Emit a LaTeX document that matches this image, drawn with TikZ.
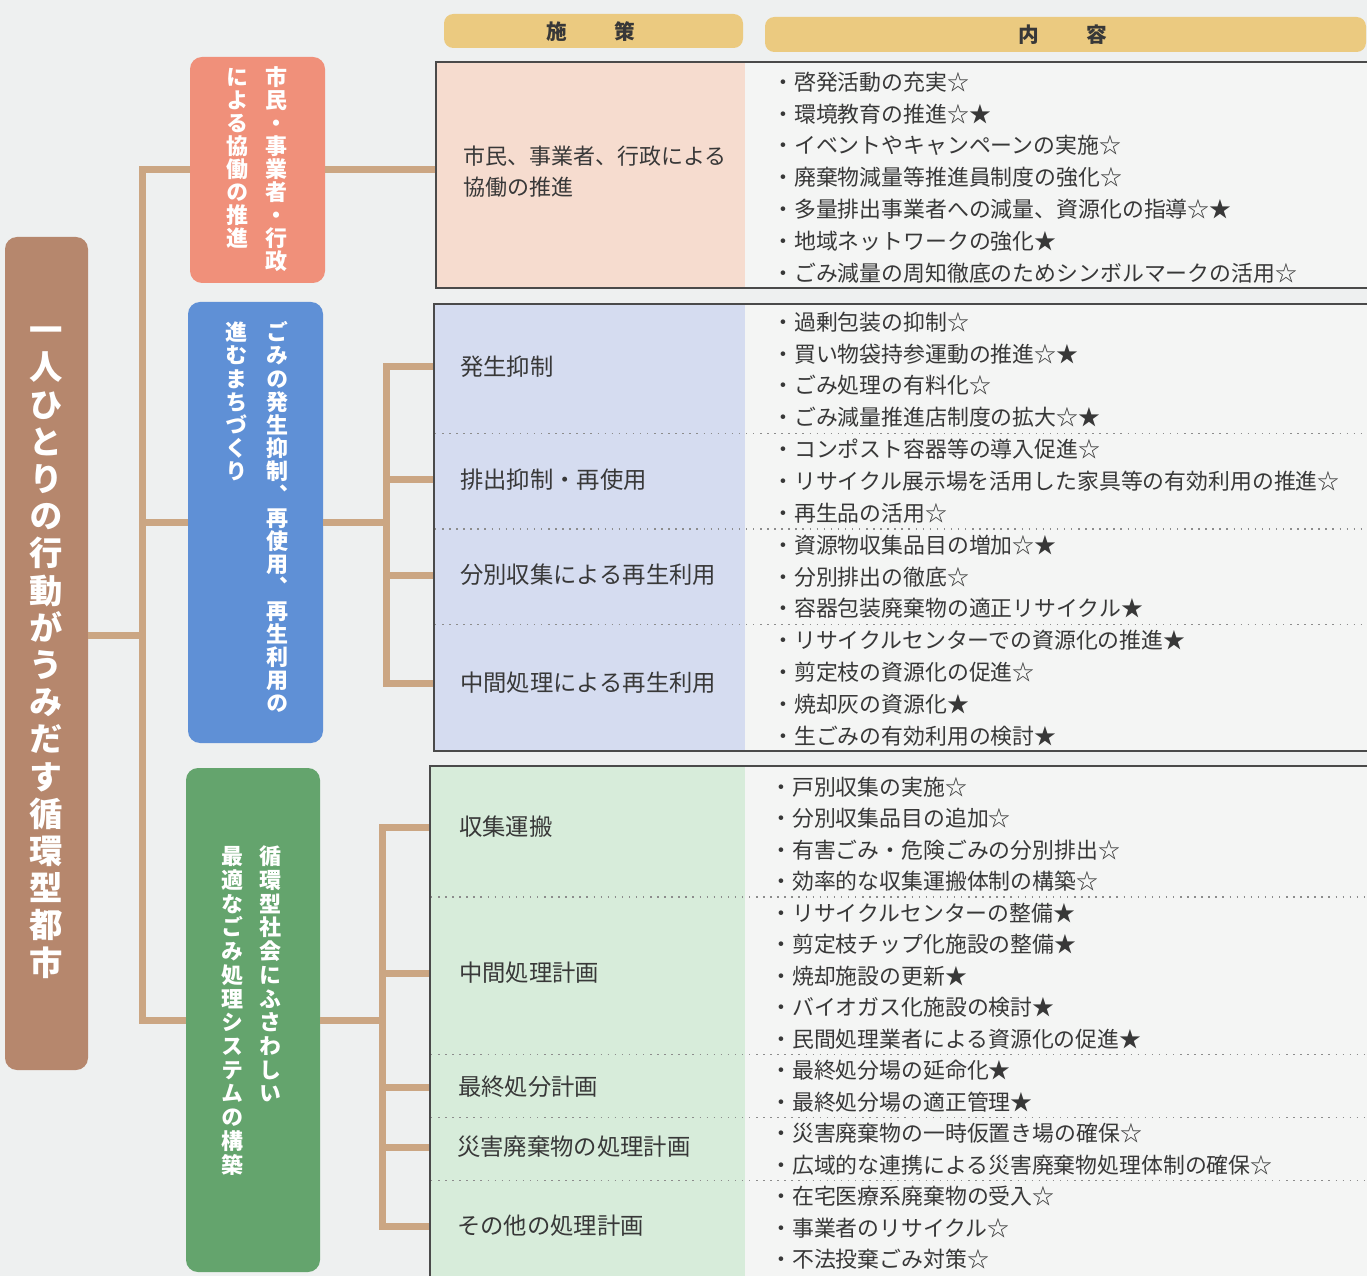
\documentclass[tikz,border=0pt]{standalone}
\usepackage{fontspec}
\setmainfont{Noto Sans CJK JP}
\newfontfamily\jpv[RawFeature=+vert]{Noto Sans CJK JP}
\usetikzlibrary{fit}
\definecolor{bg}{HTML}{EEF0F0}
\definecolor{tan}{HTML}{CBA683}
\definecolor{brownbox}{HTML}{B6876D}
\definecolor{orangebox}{HTML}{F0907A}
\definecolor{bluebox}{HTML}{5F90D6}
\definecolor{greenbox}{HTML}{64A46D}
\definecolor{gold}{HTML}{EBCA80}
\definecolor{tonefill}{HTML}{F6DCCF}
\definecolor{ttwofill}{HTML}{D5DCF0}
\definecolor{tthreefill}{HTML}{D7ECDA}
\definecolor{rfill}{HTML}{F4F5F4}
\definecolor{bordercol}{HTML}{4A4A4A}
\definecolor{txt}{HTML}{383838}
\definecolor{sepcol}{HTML}{8C8C8C}
\makeatletter
\def\vstk@end{\vstk@end}
\newcommand\vstk[2]{\vbox{\baselineskip=#1\lineskiplimit=-100pt\lineskip=0pt\vstk@#2\vstk@end}}
\def\vstk@#1{\ifx\vstk@end#1\else\hbox to 1.1em{\vrule height .88em depth .12em width 0pt\hss#1\hss}\expandafter\vstk@\fi}
\makeatother
\begin{document}
\begin{tikzpicture}[x=0.75pt,y=-0.75pt,
  tree/.style={line width=5.25pt,draw=tan},
  box/.style={inner sep=0pt,rounded corners=9pt},
  vcol/.style={anchor=north,inner sep=0pt,text=white},
  vfont/.style={font=\jpv\bfseries\fontsize{16.5pt}{16.5pt}\selectfont},
  border/.style={line width=1.3pt,draw=bordercol},
  sepline/.style={line width=1.1pt,draw=sepcol,dash pattern=on 1.1pt off 4.2pt},
  item/.style={anchor=west,inner sep=0pt,text=txt,font=\fontsize{16.4pt}{20pt}\selectfont,text height=14.4pt,text depth=2pt},
  pol/.style={anchor=west,inner sep=0pt,text=txt,font=\fontsize{17.5pt}{20pt}\selectfont,text height=15.4pt,text depth=2.1pt},
  hdr/.style={inner sep=0pt,rounded corners=7pt,fill=gold},
  hdrtext/.style={inner sep=0pt,text=txt,font=\bfseries\fontsize{15.5pt}{16pt}\selectfont,text height=13.6pt,text depth=1.9pt}]
\useasboundingbox (0,0) rectangle (1367,1276);
\fill[bg] (0,0) rectangle (1367,1276);
\coordinate (R) at (1375,0);

% headers
\node[hdr,fit={(444,14) (743,48)}] (h1) {};
\node[hdr,fit={(765,17) (1366,52)}] (h2) {};
\node[hdrtext] (h1t) at (591,32) {施\hspace{2.3em}策};
\node[hdrtext] (h2t) at (1063,35) {内\hspace{2.3em}容};

% table frames
\fill[rfill] (745,62) rectangle (1375,288);
\fill[rfill] (745,304) rectangle (1375,751);
\fill[rfill] (745,766) rectangle (1375,1290);
\node[fit={(436,62) (745,288)},inner sep=0pt,fill=tonefill] (t1) {};
\node[fit={(434,304) (745,751)},inner sep=0pt,fill=ttwofill] (t2) {};
\node[fit={(430,766) (745,1290)},inner sep=0pt,fill=tthreefill] (t3) {};

% connector anchors
\coordinate (trunk) at (142,635);
\coordinate (bus2) at (386,0);
\coordinate (bus3) at (382,0);

% boxes
\node[box,fill=brownbox,fit={(5,237) (88,1070)}] (root) {};
\node[box,fill=orangebox,fit={(190,57) (325,283)}] (g1) {};
\node[box,fill=bluebox,fit={(188,302) (323,743)}] (g2) {};
\node[box,fill=greenbox,fit={(186,768) (320,1272)}] (g3) {};

% policy labels
\node[anchor=west,inner sep=0pt,text=txt,align=left,font=\fontsize{16.5pt}{23.2pt}\selectfont] (p11) at (463,172) {市民、事業者、行政による\\協働の推進};
\node[pol] (p21) at (460,367) {発生抑制};
\node[pol] (p22) at (460,480) {排出抑制・再使用};
\node[pol] (p23) at (460,575) {分別収集による再生利用};
\node[pol] (p24) at (460,683) {中間処理による再生利用};
\node[pol] (p31) at (459,827) {収集運搬};
\node[pol] (p32) at (459,973) {中間処理計画};
\node[pol] (p33) at (458,1087) {最終処分計画};
\node[pol] (p34) at (457,1147) {災害廃棄物の処理計画};
\node[pol] (p35) at (457,1226) {その他の処理計画};

% connectors
\draw[tree] (root.east |- trunk) -- (trunk);
\draw[tree] (g1.west) -| (trunk) |- (g3.west);
\draw[tree] (g2.west) -- (g2.west -| trunk);
\draw[tree] (g1.east) -- (g1.east -| t1.west);
\draw[tree] (g2.east) -- (g2.east -| bus2);
\draw[tree] (t2.west |- p21) -| (bus2 |- p24) -- (t2.west |- p24);
\draw[tree] (bus2 |- p22) -- (t2.west |- p22);
\draw[tree] (bus2 |- p23) -- (t2.west |- p23);
\draw[tree] (g3.east) -- (g3.east -| bus3);
\draw[tree] (t3.west |- p31) -| (bus3 |- p35) -- (t3.west |- p35);
\draw[tree] (bus3 |- p32) -- (t3.west |- p32);
\draw[tree] (bus3 |- p33) -- (t3.west |- p33);
\draw[tree] (bus3 |- p34) -- (t3.west |- p34);

% vertical texts
\node[vcol,font=\jpv\bfseries\fontsize{25pt}{25pt}\selectfont] (roott) at (46,313) {\vstk{27.9pt}{一人ひとりの行動がうみだす循環型都市}};
\node[vcol,vfont] (g1r) at (276,66) {\vstk{17.2pt}{市民・事業者・行政}};
\node[vcol,vfont] (g1l) at (237,66) {\vstk{17.2pt}{による協働の推進}};
\node[vcol,vfont] (g2r) at (277,321) {\vstk{17.4pt}{ごみの発生抑制、再使用、再生利用の}};
\node[vcol,vfont] (g2l) at (236,321) {\vstk{17.4pt}{進むまちづくり}};
\node[vcol,vfont] (g3r) at (270,845) {\vstk{17.8pt}{循環型社会にふさわしい}};
\node[vcol,vfont] (g3l) at (232,845) {\vstk{17.8pt}{最適なごみ処理システムの構築}};

% borders
\draw[border] (t1.north west -| R) -- (t1.north west) -- (t1.south west) -- (t1.south west -| R);
\draw[border] (t2.north west -| R) -- (t2.north west) -- (t2.south west) -- (t2.south west -| R);
\draw[border] (t3.north west -| R) -- (t3.north west) -- (t3.south west);

% dotted separators
\foreach \yy in {433.5,529,624.6} \draw[sepline] (435,\yy) -- (1375,\yy);
\foreach \yy in {897,1054.75,1117.75,1180.75} \draw[sepline] (431,\yy) -- (1375,\yy);

% content
\foreach \t [count=\i from 0] in {・啓発活動の充実☆,・環境教育の推進☆★,・イベントやキャンペーンの実施☆,・廃棄物減量等推進員制度の強化☆,・多量排出事業者への減量、資源化の指導☆★,・地域ネットワークの強化★,・ごみ減量の周知徹底のためシンボルマークの活用☆}
  \node[item] (a\i) at (772,82+31.8*\i) {\t};
\foreach \t [count=\i from 0] in {・過剰包装の抑制☆,・買い物袋持参運動の推進☆★,・ごみ処理の有料化☆,・ごみ減量推進店制度の拡大☆★,・コンポスト容器等の導入促進☆,・リサイクル展示場を活用した家具等の有効利用の推進☆,・再生品の活用☆,・資源物収集品目の増加☆★,・分別排出の徹底☆,・容器包装廃棄物の適正リサイクル★,・リサイクルセンターでの資源化の推進★,・剪定枝の資源化の促進☆,・焼却灰の資源化★,・生ごみの有効利用の検討★}
  \node[item] (b\i) at (772,322+31.85*\i) {\t};
\foreach \t [count=\i from 0] in {・戸別収集の実施☆,・分別収集品目の追加☆,・有害ごみ・危険ごみの分別排出☆,・効率的な収集運搬体制の構築☆,・リサイクルセンターの整備★,・剪定枝チップ化施設の整備★,・焼却施設の更新★,・バイオガス化施設の検討★,・民間処理業者による資源化の促進★,・最終処分場の延命化★,・最終処分場の適正管理★,・災害廃棄物の一時仮置き場の確保☆,・広域的な連携による災害廃棄物処理体制の確保☆,・在宅医療系廃棄物の受入☆,・事業者のリサイクル☆,・不法投棄ごみ対策☆}
  \node[item] (c\i) at (770,787+31.5*\i) {\t};
\end{tikzpicture}
\end{document}
